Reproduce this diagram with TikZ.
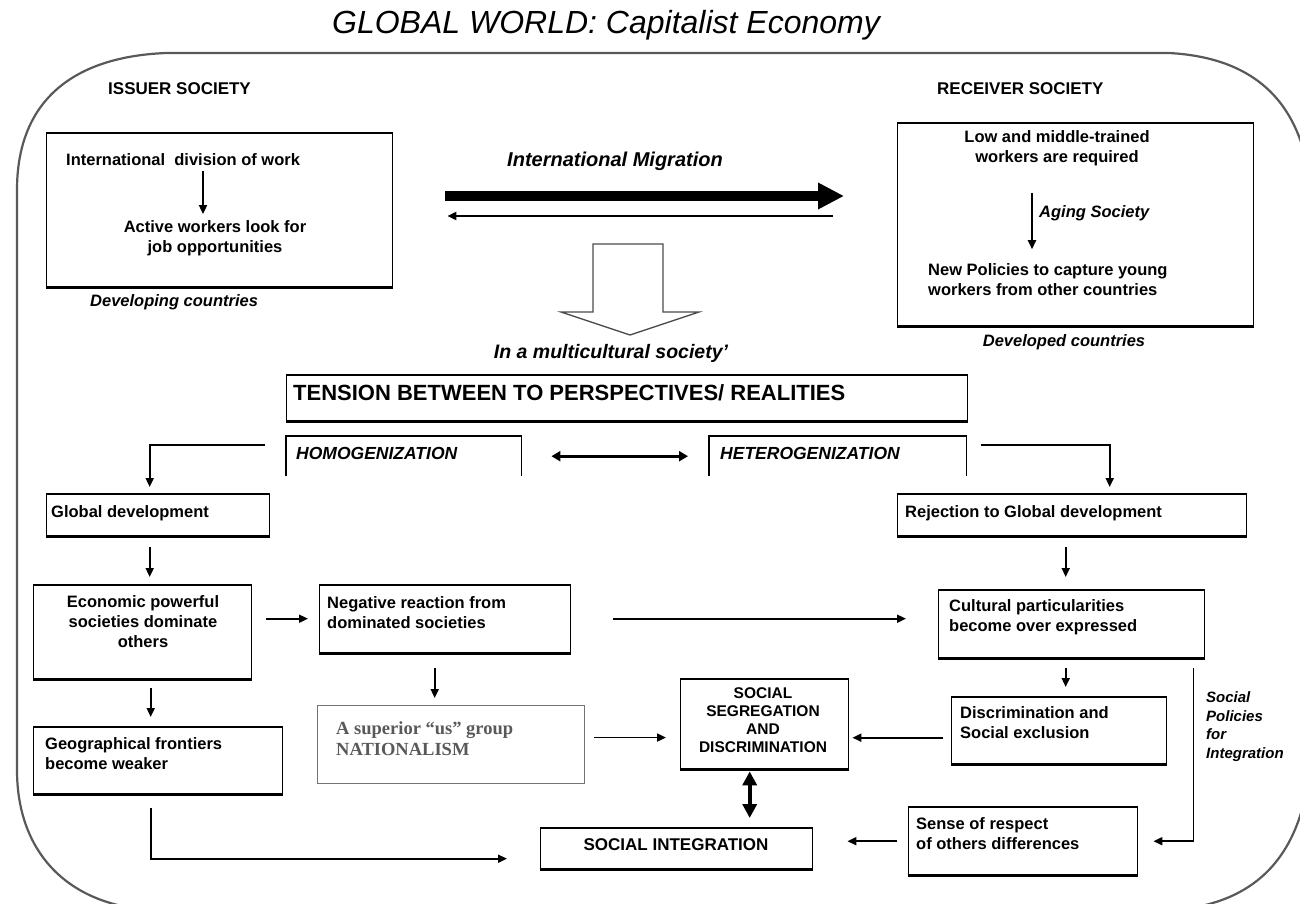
\documentclass[tikz,border=0pt]{standalone}
\usepackage{fontspec}
\setmainfont{Liberation Sans}
\newfontfamily\timesfont{Liberation Serif}
\usetikzlibrary{arrows.meta,calc}
\begin{document}
\begin{tikzpicture}[x=1pt,y=-1pt,
  box/.style={draw=black,line width=1.4pt,inner sep=0pt,anchor=north west},
  greybox/.style={draw=black!55,line width=1.1pt,inner sep=0pt,anchor=north west},
  openbox/.style={draw=none,inner sep=0pt,anchor=north west},
  txt/.style={inner sep=0pt,font=\fontsize{16.5}{20}\selectfont\bfseries},
  itxt/.style={inner sep=0pt,font=\fontsize{16.5}{20}\selectfont\bfseries\itshape},
  head/.style={inner sep=0pt,font=\fontsize{17}{20}\selectfont\bfseries},
  arr/.style={line width=1.8pt,-{Triangle[length=9pt,width=8pt]}},
  bigarr/.style={line width=10pt,-{Triangle[length=26pt,width=25pt]}},
  dblarr/.style={line width=2.6pt,{Triangle[length=9pt,width=10pt]}-{Triangle[length=9pt,width=10pt]}},
  thickdbl/.style={line width=4pt,{Triangle[length=14pt,width=14pt]}-{Triangle[length=14pt,width=14pt]}},
]
\useasboundingbox (0,0) rectangle (1300,904);

% outer frame: the global world
\begin{scope}
  \clip (0,0) rectangle (1300,904);
  \draw[black!65,line width=2.2pt]
    (166,53) -- (1169,53)
    .. controls (1262,58) and (1310,110) .. (1312,212)
    -- (1312,735)
    .. controls (1310,850) and (1262,902) .. (1175,910)
    -- (150,910)
    .. controls (65,904) and (17,850) .. (17,770)
    -- (17,190)
    .. controls (17,105) and (68,57) .. (166,53);
\end{scope}

\node[inner sep=0pt,font=\fontsize{32}{36}\selectfont\itshape] (title) at (606,25) {GLOBAL WORLD: Capitalist Economy};

\node[head,anchor=west] (issuerlbl) at (108,89) {ISSUER SOCIETY};
\node[head,anchor=west] (receiverlbl) at (937,89) {RECEIVER SOCIETY};

% boxes
\node[box,minimum width=346,minimum height=153] (issuer) at (46,133) {};
\node[box,minimum width=356,minimum height=202] (receiver) at (897,123) {};
\node[box,minimum width=681,minimum height=45] (tension) at (286,375) {};
\node[openbox,minimum width=235,minimum height=40] (homog) at (286,436) {};
\node[openbox,minimum width=257,minimum height=40] (heterog) at (709,436) {};
\node[box,minimum width=223,minimum height=41] (globaldev) at (46,494) {};
\node[box,minimum width=349,minimum height=41] (rejection) at (897,494) {};
\node[box,minimum width=218,minimum height=93] (econ) at (33,585) {};
\node[box,minimum width=251,minimum height=67] (negative) at (319,585) {};
\node[box,minimum width=266,minimum height=67] (cultural) at (938,590) {};
\node[box,minimum width=249,minimum height=66] (geo) at (33,727) {};
\node[greybox,minimum width=267,minimum height=78] (superior) at (317,705) {};
\node[box,minimum width=168,minimum height=89] (segreg) at (680,679) {};
\node[box,minimum width=215,minimum height=66] (discrim) at (951,697) {};
\node[box,minimum width=272,minimum height=40] (integr) at (540,828) {};
\node[box,minimum width=229,minimum height=67] (sense) at (908,807) {};

% heavier top and bottom edges of the boxes
\foreach \b in {issuer,receiver,tension,globaldev,rejection,econ,negative,cultural,geo,segreg,discrim,integr,sense}{
  \draw[line width=2.6pt] (\b.north west) -- (\b.north east);
  \draw[line width=3.2pt] (\b.south west) -- (\b.south east);
}

% open brackets
\draw[line width=1.4pt] (homog.south west) -- (homog.north west) -- (homog.north east) -- (homog.south east);
\draw[line width=2.6pt] (homog.north west) -- (homog.north east);
\draw[line width=1.4pt] (heterog.south west) -- (heterog.north west) -- (heterog.north east) -- (heterog.south east);
\draw[line width=2.6pt] (heterog.north west) -- (heterog.north east);

% texts
\node[txt,anchor=west] (idw) at (66,160) {International~ division of work};
\node[txt,align=center] (awl) at (215,238) {Active workers look for\\job opportunities};
\node[itxt,anchor=west] (devg) at (90,302) {Developing countries};
\node[inner sep=0pt,font=\fontsize{20}{24}\selectfont\bfseries\itshape] (migr) at (615,161) {International Migration};
\node[txt,align=center] (lowmid) at (1057,148) {Low and middle-trained\\workers are required};
\node[itxt,anchor=west] (aging) at (1039,213) {Aging Society};
\node[txt,align=left,anchor=west] (newpol) at (928,279.5) {New Policies to capture young\\workers from other countries};
\node[itxt] (devd) at (1064,342) {Developed countries};
\node[inner sep=0pt,font=\fontsize{19.5}{24}\selectfont\bfseries\itshape] (multi) at (611,353) {In a multicultural society'};
\node[inner sep=0pt,anchor=west,font=\fontsize{22}{24}\selectfont\bfseries] (tensiontxt) at (293,393) {TENSION BETWEEN TO PERSPECTIVES/ REALITIES};
\node[inner sep=0pt,anchor=west,font=\fontsize{17.5}{20}\selectfont\bfseries\itshape] (homogtxt) at (296,453) {HOMOGENIZATION};
\node[inner sep=0pt,anchor=west,font=\fontsize{17.5}{20}\selectfont\bfseries\itshape] (heterogtxt) at (720,453) {HETEROGENIZATION};
\node[txt,anchor=west] (gdtxt) at (51,513) {Global development};
\node[txt,anchor=west] (rjtxt) at (905,513) {Rejection to Global development};
\node[txt,align=center] (ectxt) at (143,621.5) {Economic powerful\\societies dominate\\others};
\node[txt,align=left,anchor=west] (ngtxt) at (327,613) {Negative reaction from\\dominated societies};
\node[txt,align=left,anchor=west] (cltxt) at (949,617) {Cultural particularities\\become over expressed};
\node[txt,align=left,anchor=west] (geotxt) at (45,753.5) {Geographical frontiers\\become weaker};
\node[inner sep=0pt,align=left,anchor=west,text=black!65,font=\timesfont\fontsize{18.5}{21}\selectfont\bfseries] (suptxt) at (336,738.5) {A superior “us” group\\NATIONALISM};
\node[inner sep=0pt,align=center,font=\fontsize{15.5}{18}\selectfont\bfseries] (segtxt) at (763,720) {SOCIAL\\SEGREGATION\\AND\\DISCRIMINATION};
\node[txt,align=left,anchor=west] (dstxt) at (960,722.5) {Discrimination and\\Social exclusion};
\node[head] (intxt) at (676,845) {SOCIAL INTEGRATION};
\node[txt,align=left,anchor=west] (sntxt) at (916,833.5) {Sense of respect\\of others differences};
\node[inner sep=0pt,align=left,anchor=west,font=\fontsize{15}{18.5}\selectfont\bfseries\itshape] (poltxt) at (1206,726.5) {Social\\Policies\\for\\Integration};

% arrows inside the two society boxes
\draw[arr,shorten <=5pt,shorten >=6pt] ([xshift=-12pt]awl.north |- idw.south) -- ([xshift=-12pt]awl.north);
\draw[arr,shorten <=27pt,shorten >=14pt] ([xshift=-7pt]aging.west |- lowmid.south) -- ([xshift=-7pt]aging.west |- newpol.north);

% migration flows
\draw[bigarr,shorten <=52pt,shorten >=53pt] (issuer.east |- 0,196) -- (receiver.west |- 0,196);
\draw[arr,line width=2pt,shorten <=64pt,shorten >=54pt] (receiver.west |- 0,216) -- (issuer.east |- 0,216);

% hollow down arrow
\draw[black!70,line width=1.3pt] (593,244) -- (663,244) -- (663,312) -- (699,312) -- (630,335) -- (561,312) -- (593,312) -- cycle;

% homogenization / heterogenization
\draw[dblarr,shorten <=30pt,shorten >=21pt] (homog.east) -- (heterog.west);
\draw[arr,shorten >=7pt] ([xshift=-21pt,yshift=-9pt]homog.north west) -| ([xshift=-8.5pt]globaldev.north);
\draw[arr,shorten >=7pt] ([xshift=15pt,yshift=-9pt]heterog.north east) -| ([xshift=37.5pt]rejection.north);

% left column
\draw[arr,shorten <=11pt,shorten >=8pt] ([xshift=-8.5pt]globaldev.south) -- ([xshift=-8.5pt]globaldev.south |- econ.north);
\draw[arr,shorten <=9pt,shorten >=10pt] ([xshift=8pt]econ.south) -- ([xshift=8pt]econ.south |- geo.north);
\draw[arr,shorten <=14pt,shorten >=11pt] ([yshift=13.5pt]econ.east) -- ([yshift=13.5pt]econ.east -| negative.west);
\draw[arr,shorten <=14pt,shorten >=33pt] ([xshift=-7.5pt]geo.south) |- ([yshift=-10pt]integr.west);

% middle column
\draw[arr,shorten <=42pt,shorten >=32pt] ([yshift=13.5pt]econ.east -| negative.east) -- ([yshift=13.5pt]econ.east -| cultural.west);
\draw[arr,shorten <=15pt,shorten >=7pt] ([xshift=-10.5pt]negative.south) -- ([xshift=-10.5pt]negative.south |- superior.north);
\draw[arr,shorten <=9pt,shorten >=14pt] ([yshift=7pt]superior.east) -- ([yshift=7pt]superior.east -| segreg.west);
\draw[thickdbl,shorten <=2pt,shorten >=10pt] ([xshift=-15pt]segreg.south) -- ([xshift=-15pt]segreg.south |- integr.north);

% right column
\draw[arr,shorten <=11pt,shorten >=13pt] ([xshift=-6.5pt]rejection.south) -- ([xshift=-6.5pt]rejection.south |- cultural.north);
\draw[arr,shorten <=10pt,shorten >=10pt] ([xshift=-6pt]cultural.south) -- ([xshift=-6pt]cultural.south |- discrim.north);
\draw[arr,shorten <=8pt,shorten >=3pt] ([yshift=-7pt]discrim.west) -- ([yshift=-7pt]discrim.west -| segreg.east);
\draw[arr,shorten >=15pt] ([xshift=-12pt,yshift=-10pt]cultural.south east) |- (sense.east);
\draw[arr,shorten <=11pt,shorten >=34pt] (sense.west) -- (sense.west -| integr.east);
\end{tikzpicture}
\end{document}
